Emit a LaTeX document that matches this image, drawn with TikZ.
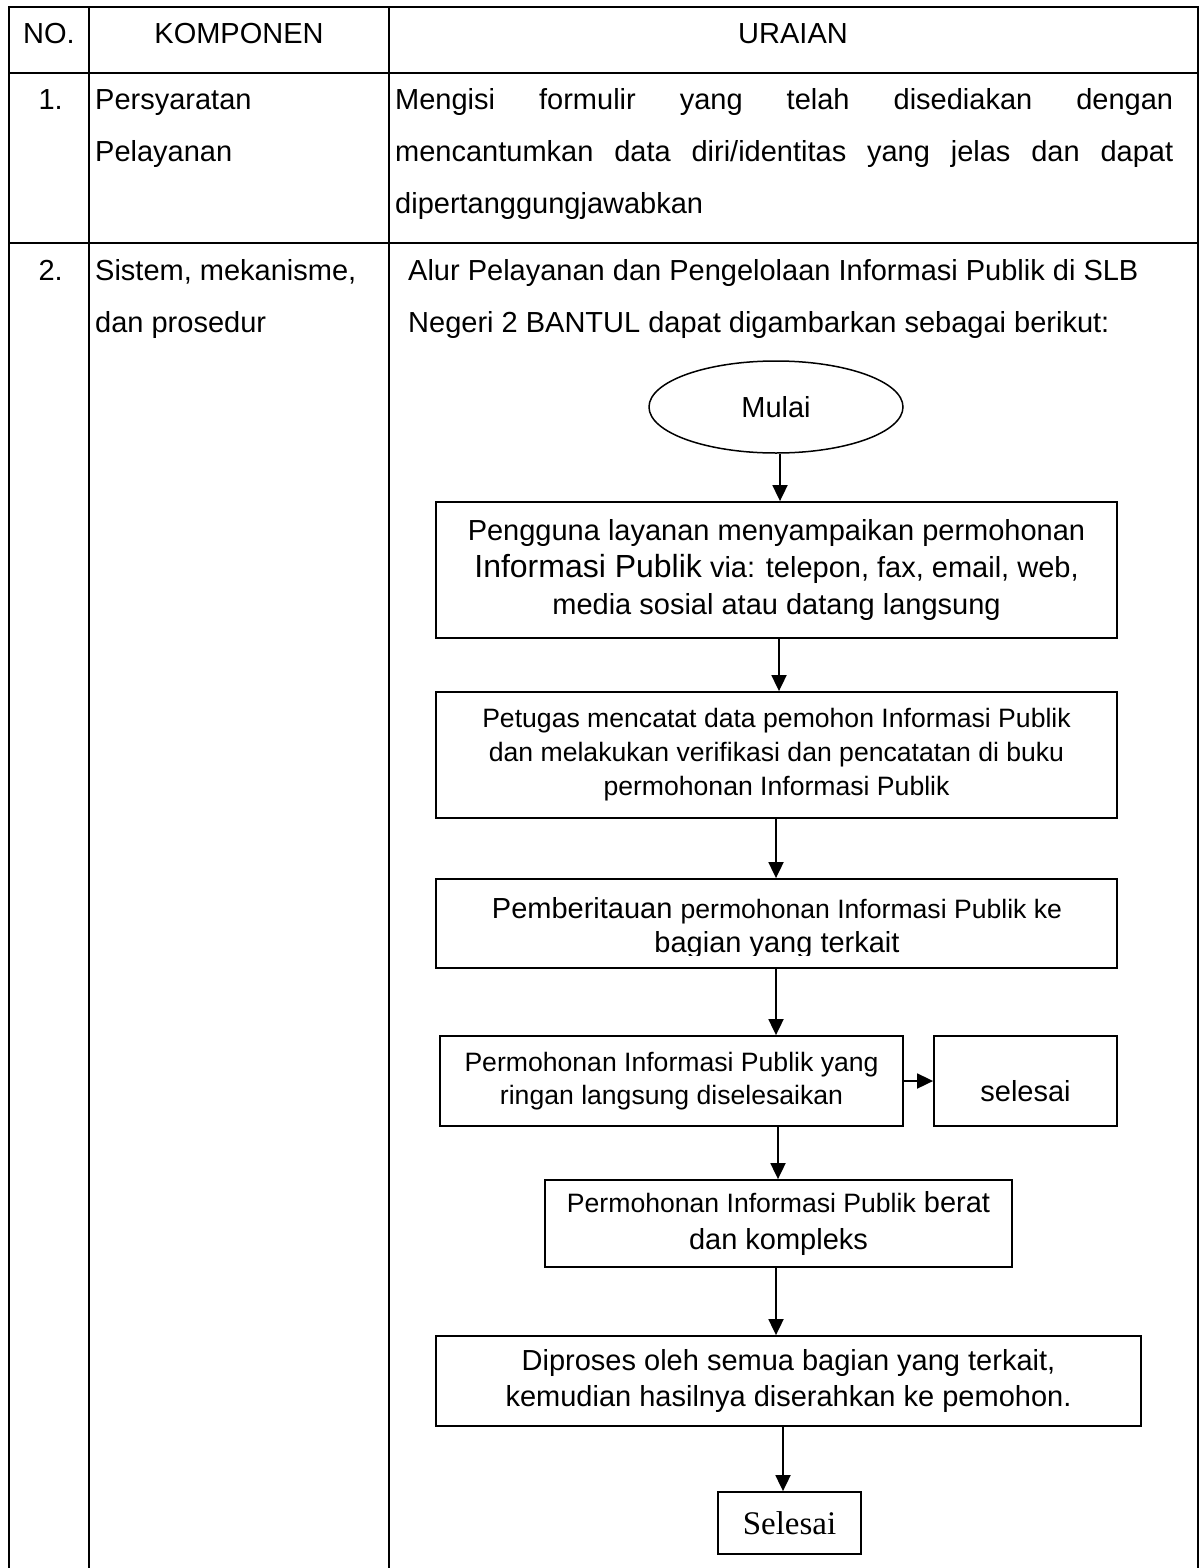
\documentclass[tikz,border=0pt]{standalone}
\usepackage{fontspec}
\setmainfont{Liberation Sans}
\newfontfamily\seriffam{Liberation Serif}
\usetikzlibrary{arrows.meta,shapes.geometric}
\begin{document}
\begin{tikzpicture}[x=1pt,y=-1pt,
  font=\fontsize{29}{37}\selectfont,
  grid/.style={line width=2.8pt,line join=miter},
  cell/.style={anchor=base west,inner sep=0pt,font=\fontsize{29}{52}\selectfont},
  hcell/.style={anchor=base,inner sep=0pt},
  box/.style={draw,line width=1.8pt,inner sep=0pt,align=center},
  small/.style={font=\fontsize{26.6}{33}\selectfont},
  arr/.style={line width=1.8pt,-{Triangle[width=15pt,length=16pt]}}]
\useasboundingbox (0,0) rectangle (1199,1568);
% table grid
\draw[grid] (9,1568) -- (9,7) -- (1198,7) -- (1198,1568);
\draw[grid] (9,73) -- (1198,73);
\draw[grid] (9,243) -- (1198,243);
\draw[grid] (89,7) -- (89,1568);
\draw[grid] (389,7) -- (389,1568);
% header
\node[hcell] (hno) at (49,44) {NO.};
\node[hcell] (hkomp) at (239,44) {KOMPONEN};
\node[hcell] (hur) at (793,44) {URAIAN};
% row 1
\node[anchor=base east,inner sep=0pt] (n1) at (63,110) {1.};
\node[cell] (k1) at (95,110) {\parbox[t]{285pt}{Persyaratan\\Pelayanan}};
\node[cell] (u1) at (395,110) {\parbox[t]{778pt}{\makebox[778pt][s]{Mengisi formulir yang telah disediakan dengan}\\\makebox[778pt][s]{mencantumkan data diri/identitas yang jelas dan dapat}\\dipertanggungjawabkan}};
% row 2
\node[anchor=base east,inner sep=0pt] (n2) at (63,280) {2.};
\node[cell] (k2) at (95,280) {\parbox[t]{285pt}{Sistem, mekanisme,\\dan prosedur}};
\node[cell] (u2) at (408,280) {\parbox[t]{780pt}{Alur Pelayanan dan Pengelolaan Informasi Publik di SLB\\Negeri 2 BANTUL dapat digambarkan sebagai berikut:}};
% flowchart
\node[ellipse,draw,line width=1.5pt,minimum width=254pt,minimum height=92pt,inner sep=0pt] (mulai) at (776,407) {Mulai};
\node[box,minimum width=681pt,minimum height=136pt] (b1) at (776.5,570)
  {Pengguna layanan menyampaikan permohonan\\{\fontsize{32}{37}\selectfont Informasi Publik} via: telepon, fax, email, web,\\media sosial atau datang langsung};
\node[box,font=\fontsize{26.6}{34}\selectfont,minimum width=681pt,minimum height=126pt] (b2) at (776.5,755)
  {Petugas mencatat data pemohon Informasi Publik\\dan melakukan verifikasi dan pencatatan di buku\\permohonan Informasi Publik};
\node[box,minimum width=681pt,minimum height=89pt] (b3) at (776.5,923.5) {};
\begin{scope}
  \clip (437,881) rectangle (1116,955.5);
  \node[align=center,inner sep=0pt,anchor=south,font=\fontsize{29}{34}\selectfont] (b3t) at (777,959.2)
    {Pemberitauan {\fontsize{26.6}{34}\selectfont permohonan Informasi Publik ke}\\bagian yang terkait};
\end{scope}
\node[box,small,minimum width=463pt,minimum height=90pt] (b4) at (671.5,1081)
  {Permohonan Informasi Publik yang\\ringan langsung diselesaikan};
\node[box,minimum width=183pt,minimum height=90pt] (b5) at (1025.5,1081) {};
\node[anchor=base,inner sep=0pt] (b5t) at (1025.5,1101) {selesai};
\node[box,minimum width=467pt,minimum height=87pt] (b6) at (778.5,1223.5)
  {{\fontsize{26.6}{37}\selectfont Permohonan Informasi Publik} berat\\dan kompleks};
\node[box,font=\fontsize{29}{36}\selectfont,minimum width=705pt,minimum height=90pt] (b7) at (788.5,1381)
  {Diproses oleh semua bagian yang terkait,\\kemudian hasilnya diserahkan ke pemohon.};
\node[box,font=\seriffam\fontsize{33}{37}\selectfont,minimum width=143pt,minimum height=62pt] (b8) at (789.5,1523) {Selesai};
% connectors
\draw[arr] ([xshift=4pt]mulai.south) -- ([xshift=4pt]mulai.south |- b1.north);
\draw[arr] ([xshift=2.5pt]b1.south) -- ([xshift=2.5pt]b1.south |- b2.north);
\draw[arr] ([xshift=-0.5pt]b2.south) -- ([xshift=-0.5pt]b2.south |- b3.north);
\draw[arr] ([xshift=-0.5pt]b3.south) -- ([xshift=-0.5pt]b3.south |- b4.north);
\draw[arr] (b4.east) -- (b5.west);
\draw[arr] ([xshift=-0.5pt]b6.north |- b4.south) -- ([xshift=-0.5pt]b6.north);
\draw[arr] ([xshift=-2.5pt]b6.south) -- ([xshift=-2.5pt]b6.south |- b7.north);
\draw[arr] ([xshift=-5.5pt]b7.south) -- ([xshift=-5.5pt]b7.south |- b8.north);
\end{tikzpicture}
\end{document}
